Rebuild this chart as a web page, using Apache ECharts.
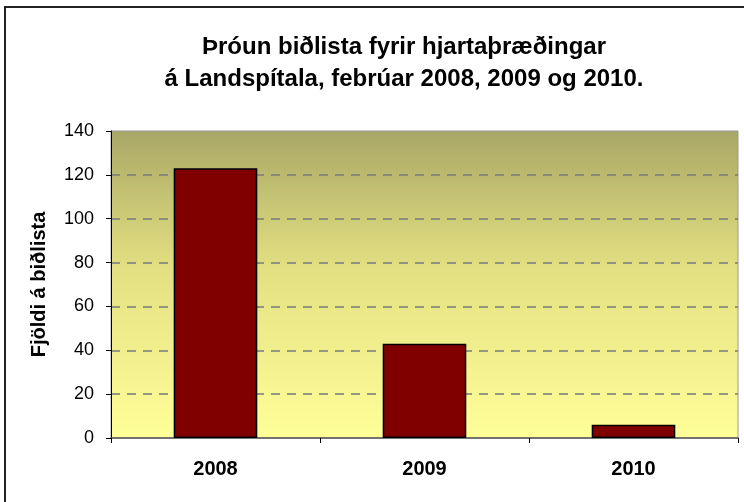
<!DOCTYPE html>
<html>
<head>
<meta charset="utf-8">
<script src="https://cdn.jsdelivr.net/npm/echarts@6/dist/echarts.min.js"></script>
<style>
html,body{margin:0;padding:0;background:#fff;}
#chart{width:744px;height:502px;}
</style>
</head>
<body>
<div id="chart"></div>
<script>
const categories = ['2008', '2009', '2010'];
const values = [123, 43, 6];
const titleLines = ['Þróun biðlista fyrir hjartaþræðingar', 'á Landspítala, febrúar 2008, 2009 og 2010.'];
const yAxisName = 'Fjöldi á biðlista';

const chart = echarts.init(document.getElementById('chart'), null, {renderer: 'canvas'});
const font = 'Liberation Sans, Arial, sans-serif';
chart.setOption({
  animation: false,
  backgroundColor: '#fff',
  title: {
    text: titleLines.join('\n'),
    left: 399,
    top: 26,
    textAlign: 'center',
    textStyle: {fontFamily: font, fontSize: 24, fontWeight: 'bold', color: '#000', lineHeight: 32}
  },
  graphic: [{
    type: 'polyline',
    shape: {points: [[5, 510], [5, 7], [760, 7]]},
    style: {stroke: '#222', lineWidth: 2, fill: null},
    z: 100
  }],
  grid: {
    left: 111, right: 6, top: 131, bottom: 64,
    show: true,
    borderColor: '#9a9a9a',
    borderWidth: 1,
    backgroundColor: {
      type: 'linear', x: 0, y: 0, x2: 0, y2: 1,
      colorStops: [
        {offset: 0, color: '#A9A766'},
        {offset: 0.45, color: '#E3E082'},
        {offset: 1, color: '#FFFF99'}
      ]
    }
  },
  xAxis: {
    type: 'category',
    data: categories,
    axisLine: {show: true, lineStyle: {color: '#555', width: 1.5}},
    axisTick: {show: true, alignWithLabel: false, length: 5, lineStyle: {color: '#000'}},
    axisLabel: {fontFamily: font, fontSize: 20, fontWeight: 'bold', color: '#000', margin: 21}
  },
  yAxis: {
    type: 'value',
    min: 0, max: 140, interval: 20,
    name: yAxisName,
    nameLocation: 'middle',
    nameGap: 62,
    nameRotate: 90,
    nameTextStyle: {fontFamily: font, fontSize: 20, fontWeight: 'bold', color: '#000'},
    axisLine: {show: true, lineStyle: {color: '#000', width: 1}},
    axisTick: {show: true, length: 5, lineStyle: {color: '#000'}},
    axisLabel: {fontFamily: font, fontSize: 18, color: '#000', margin: 17},
    splitLine: {show: true, showMinLine: false, showMaxLine: false, lineStyle: {color: '#7a7a7a', width: 1.5, type: [9, 7]}}
  },
  series: [{
    type: 'bar',
    data: values,
    barWidth: '40%',
    itemStyle: {color: '#800000', borderColor: '#000', borderWidth: 1.5}
  }]
});
</script>
</body>
</html>
